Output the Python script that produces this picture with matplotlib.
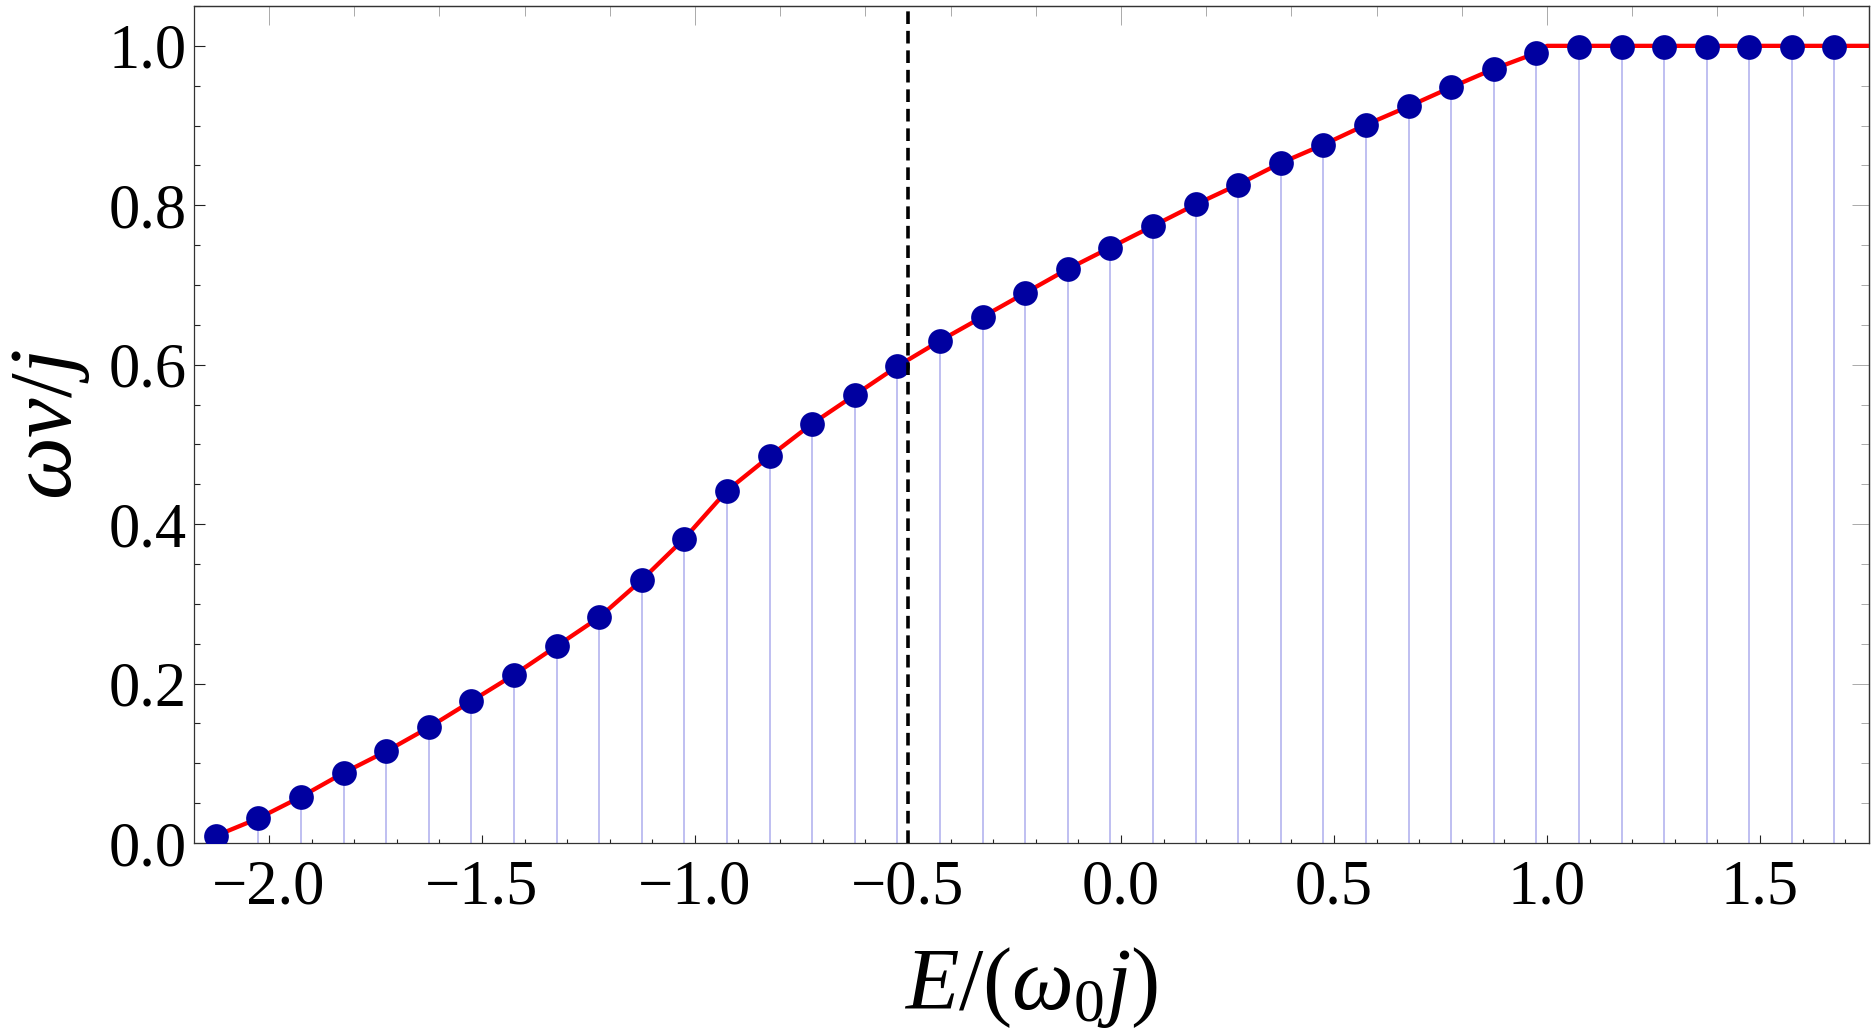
import matplotlib
matplotlib.use("Agg")
import matplotlib.pyplot as plt
from matplotlib.ticker import MultipleLocator, FuncFormatter

# ---- data ----
E_points = [-2.125, -2.025, -1.925, -1.825, -1.725, -1.625, -1.525, -1.425, -1.325,
            -1.225, -1.125, -1.025, -0.925, -0.825, -0.725, -0.625, -0.525, -0.425,
            -0.325, -0.225, -0.125, -0.025, 0.075, 0.175, 0.275, 0.375, 0.475,
            0.575, 0.675, 0.775, 0.875, 0.975, 1.075, 1.175, 1.275, 1.375, 1.475,
            1.575, 1.675]
wv_points = [0.009, 0.031, 0.058, 0.088, 0.115, 0.145, 0.178, 0.211, 0.247,
             0.283, 0.330, 0.382, 0.442, 0.485, 0.526, 0.562, 0.598, 0.630,
             0.660, 0.690, 0.720, 0.747, 0.774, 0.801, 0.826, 0.853, 0.876,
             0.901, 0.924, 0.948, 0.971, 0.991, 0.998, 0.999, 0.999, 0.999, 0.999,
             0.999, 0.998]

# red curve vertices
curve_E = [-2.135, -2.125, -2.025, -1.925, -1.825, -1.725, -1.625, -1.525, -1.425,
           -1.325, -1.225, -1.125, -1.025, -0.925, -0.825, -0.725, -0.625,
           -0.525, -0.425, -0.325, -0.225, -0.125, -0.025, 0.075, 0.175, 0.275,
           0.375, 0.475, 0.575, 0.675, 0.775, 0.875, 0.975, 1.0, 1.8]
curve_wv = [0.0, 0.009, 0.031, 0.058, 0.088, 0.115, 0.145, 0.178, 0.211,
            0.247, 0.283, 0.330, 0.382, 0.442, 0.485, 0.526, 0.562,
            0.598, 0.630, 0.660, 0.690, 0.720, 0.747, 0.774, 0.801, 0.826,
            0.853, 0.876, 0.901, 0.924, 0.948, 0.971, 0.991, 1.0, 1.0]

E_critical = -0.5

x_ticks = [-2.0, -1.5, -1.0, -0.5, 0.0, 0.5, 1.0, 1.5]
y_ticks = [0.0, 0.2, 0.4, 0.6, 0.8, 1.0]

# ---- style ----
plt.rcParams['font.family'] = ['Liberation Serif', 'DejaVu Serif']
plt.rcParams['mathtext.fontset'] = 'custom'
plt.rcParams['mathtext.rm'] = 'Liberation Serif'
plt.rcParams['mathtext.it'] = 'Liberation Serif:italic'
plt.rcParams['mathtext.bf'] = 'Liberation Serif:bold'

fig = plt.figure(figsize=(18.75, 10.32), dpi=100)
ax = fig.add_axes([0.1035, 0.1831, 0.8933, 0.8111])

ax.vlines(E_points, 0, wv_points, color='#aeaeee', lw=1.1, zorder=1)
ax.plot(curve_E, curve_wv, color='#ff0000', lw=3.1, zorder=2, solid_joinstyle='round')
ax.plot(E_points, wv_points, 'o', ms=17.8, color='#0000a0', mec='none', zorder=3)
ax.axvline(E_critical, color='black', lw=2.6, dashes=(3.5, 1.9), zorder=4)

ax.set_xlim(-2.176, 1.756)
ax.set_ylim(0.0, 1.05)

fmt = FuncFormatter(lambda v, p: ('%.1f' % v).replace('-', '\u2212'))
ax.set_xticks(x_ticks)
ax.set_yticks(y_ticks)
ax.xaxis.set_minor_locator(MultipleLocator(0.1))
ax.yaxis.set_minor_locator(MultipleLocator(0.05))
ax.xaxis.set_major_formatter(fmt)
ax.yaxis.set_major_formatter(fmt)

ax.tick_params(which='both', direction='in', top=False, right=False, colors='#222222',
               labelsize=45, labelcolor='black')
ax.tick_params(axis='x', which='major', length=5.8, width=0.8, pad=12)
ax.tick_params(axis='x', which='minor', length=3.1, width=0.8)
ax.tick_params(axis='y', which='major', length=8.0, width=0.8, pad=5)
ax.tick_params(axis='y', which='minor', length=4.1, width=0.8)

for s in ax.spines.values():
    s.set_color('#333333')
    s.set_linewidth(0.9)

# top and right frame ticks (unlabelled, lighter)
secx = ax.secondary_xaxis('top')
secx.xaxis.set_major_locator(MultipleLocator(1.0))
secx.xaxis.set_minor_locator(MultipleLocator(0.2))
secx.tick_params(which='both', direction='in', labeltop=False, colors='#aaaaaa', width=0.7)
secx.tick_params(which='major', length=13.7)
secx.tick_params(which='minor', length=7.0)
secx.spines['top'].set_color('#555555')
secx.spines['top'].set_linewidth(0.9)

secy = ax.secondary_yaxis('right')
secy.yaxis.set_major_locator(MultipleLocator(0.2))
secy.yaxis.set_minor_locator(MultipleLocator(0.05))
secy.tick_params(which='both', direction='in', labelright=False, colors='#aaaaaa', width=0.7)
secy.tick_params(which='major', length=12.0)
secy.tick_params(which='minor', length=6.0)
secy.spines['right'].set_color('#555555')
secy.spines['right'].set_linewidth(0.9)

ax.set_xlabel(r'$E/(\omega_0 j)$', fontsize=63, labelpad=20)
ax.set_ylabel(r'$\omega\nu/j$', fontsize=64, labelpad=12)

fig.savefig('out.png', dpi=100)
